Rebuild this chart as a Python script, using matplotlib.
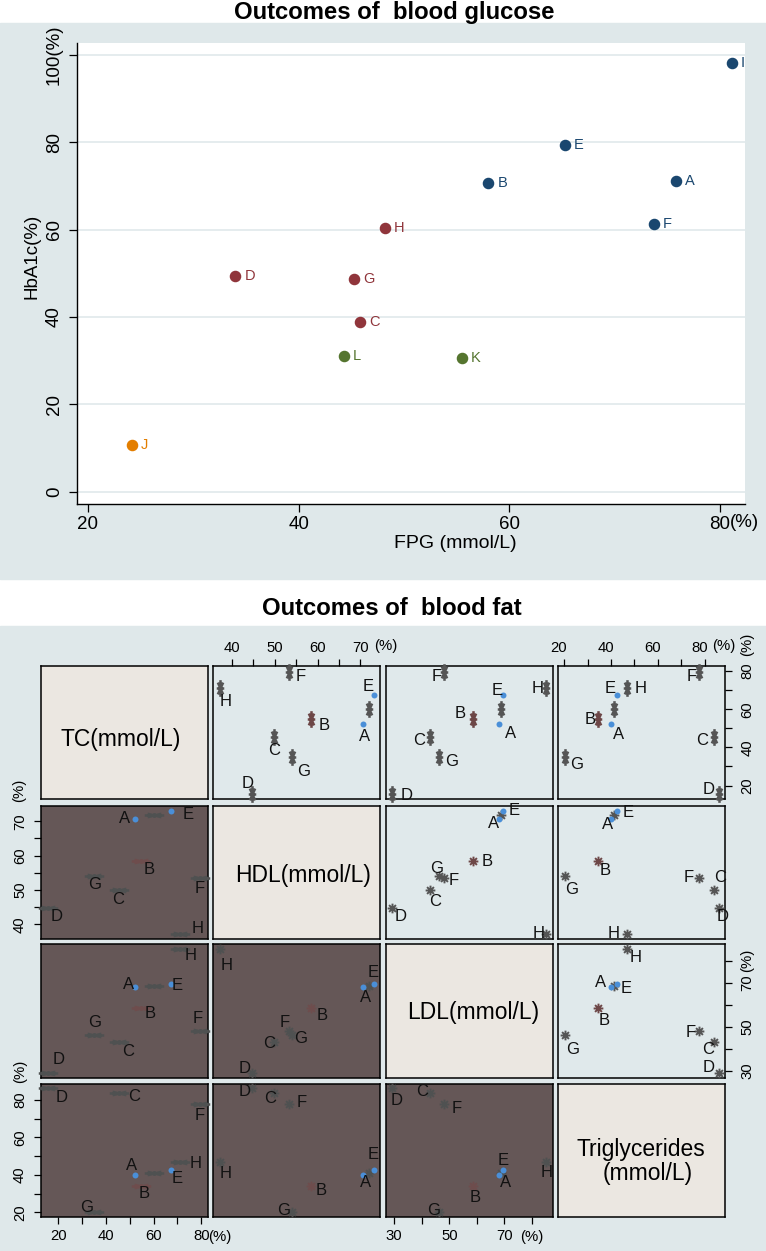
import numpy as np
import matplotlib.pyplot as plt
from matplotlib.path import Path
from matplotlib.patches import Rectangle
from matplotlib.transforms import ScaledTranslation

plt.rcParams['font.family'] = ['Liberation Sans', 'DejaVu Sans']

W, H = 766, 1251

# ---------------- data: blood glucose ----------------
glu_groups = ['A', 'B', 'C', 'D', 'E', 'F', 'G', 'H', 'I', 'J', 'K', 'L']
fpg = [75.8, 58.0, 45.8, 34.0, 65.3, 73.7, 45.3, 48.2, 81.1, 24.2, 55.5, 44.3]
hba1c = [71.2, 70.6, 38.9, 49.5, 79.4, 61.2, 48.7, 60.4, 98.2, 10.8, 30.7, 31.1]
glu_class = ['navy', 'navy', 'maroon', 'maroon', 'navy', 'navy', 'maroon',
             'maroon', 'navy', 'orange', 'green', 'green']

# ---------------- data: blood fat ----------------
fat_groups = ['A', 'B', 'C', 'D', 'E', 'F', 'G', 'H', '']
tc = [52.2, 54.9, 45.5, 15.8, 67.5, 79.4, 35.1, 71.0, 60.0]
hdl = [70.7, 58.5, 49.9, 44.8, 73.1, 53.45, 54.0, 37.2, 71.9]
ldl = [68.2, 58.7, 43.0, 29.3, 69.3, 48.2, 46.4, 85.2, 68.8]
tg = [40.0, 34.3, 83.7, 86.2, 42.6, 77.6, 20.4, 46.6, 41.2]
fat_vars = ['TC(mmol/L)', 'HDL(mmol/L)', 'LDL(mmol/L)', 'Triglycerides']

# colours
BG = '#dfe8ea'
GRID = '#e3eaed'
class_colors = {'navy': '#1a476f', 'maroon': '#90353b',
                'green': '#55752f', 'orange': '#e37e00'}
UPPER_BG, DIAG_BG, LOWER_BG = '#e0e9eb', '#ebe7e1', '#655757'
BLUE = '#4a8fd8'

# label offsets in pixels (dx right, dy down) for each matrix panel
label_off = {
    (0, 1): {'F': (11, 3), 'H': (6, 12), 'E': (-6, -9), 'A': (1, 11), 'B': (13, 6),
             'C': (0, 13), 'G': (12, 14), 'D': (-5, -11)},
    (0, 2): {'F': (-8, 3), 'H': (-9, -1), 'E': (-5, -5), 'A': (11, 8), 'B': (-13, -6),
             'C': (-11, 3), 'G': (12, 4), 'D': (14, 1)},
    (0, 3): {'F': (-8, 3), 'H': (14, -1), 'E': (-7, -7), 'A': (7, 9), 'B': (-8, 0),
             'C': (-11, 3), 'G': (12, 7), 'D': (-11, -5)},
    (1, 0): {'A': (-10, -1), 'E': (17, 3), 'B': (8, 8), 'G': (0, 7), 'C': (-1, 8),
             'F': (0, 9), 'D': (8, 8), 'H': (18, -6)},
    (1, 2): {'E': (12, -1), 'A': (-6, 4), 'B': (14, 0), 'G': (-3, -9), 'F': (9, 1),
             'C': (5, 10), 'D': (8, 8), 'H': (-8, -1)},
    (1, 3): {'E': (11, 1), 'A': (-4, 5), 'B': (7, 9), 'G': (7, 12), 'F': (-11, -2),
             'C': (7, -14), 'D': (3, 8), 'H': (-13, -1)},
    (2, 0): {'H': (11, 5), 'A': (-6, -3), 'E': (6, 0), 'B': (9, 5), 'G': (0, -13),
             'F': (-2, -13), 'C': (9, 8), 'D': (10, -14)},
    (2, 1): {'H': (7, 15), 'E': (-1, -13), 'A': (2, 10), 'B': (11, 7), 'F': (-5, -9),
             'G': (9, 3), 'C': (-5, 0), 'D': (-8, -5)},
    (2, 3): {'H': (9, 7), 'A': (-11, -5), 'E': (9, 3), 'B': (6, 12), 'G': (8, 14),
             'F': (-9, 1), 'C': (-5, 6), 'D': (-11, -6)},
    (3, 0): {'D': (13, 8), 'C': (15, 3), 'F': (0, 10), 'H': (16, 0), 'A': (-3, -10),
             'E': (6, 8), 'B': (3, 7), 'G': (-8, -5)},
    (3, 1): {'D': (-8, 2), 'C': (-4, 5), 'F': (12, -3), 'H': (6, 10), 'E': (-1, -16),
             'A': (2, 7), 'B': (10, 4), 'G': (-8, -2)},
    (3, 2): {'D': (4, 11), 'C': (-8, -2), 'F': (12, 3), 'E': (1, -10), 'A': (6, 7),
             'H': (0, 9), 'B': (2, 11), 'G': (-6, -2)},
}


def px_axes(x0, y0, x1, y1):
    return fig.add_axes([x0 / W, 1 - y1 / H, (x1 - x0) / W, (y1 - y0) / H])


def fig_text(x, y, s, **kw):
    return fig.text(x / W, 1 - y / H, s, **kw)


def star_path(sx, sy, n_lines=4):
    verts, codes = [], []
    for k in range(n_lines):
        a = np.pi * k / n_lines
        verts += [(-sx * np.cos(a), -sy * np.sin(a)), (sx * np.cos(a), sy * np.sin(a))]
        codes += [Path.MOVETO, Path.LINETO]
    return Path(verts, codes)


fig = plt.figure(figsize=(W / 100, H / 100), dpi=100)
fig.patches.append(Rectangle((0, 1 - 579 / H), 1, (579 - 22.7) / H,
                             transform=fig.transFigure, color=BG, zorder=-5))
fig.patches.append(Rectangle((0, 0), 1, (H - 626) / H,
                             transform=fig.transFigure, color=BG, zorder=-5))

# ================= blood glucose =================
fig_text(394, 19, 'Outcomes of  blood glucose', fontsize=17.2, fontweight='bold',
         ha='center', va='baseline')

ax = px_axes(76.7, 42.7, 745, 504)
ax.set_facecolor('white')
ax.set_xlim(18.93, 82.37)
ax.set_ylim(-2.8, 102.8)
for s in ['top', 'right']:
    ax.spines[s].set_visible(False)
for s in ['left', 'bottom']:
    ax.spines[s].set_linewidth(1.0)
ax.set_xticks([20, 40, 60, 80], ['20', '40', '60', '80'])
ax.set_yticks([0, 20, 40, 60, 80, 100], ['0', '20', '40', '60', '80', '100(%)'])
ax.tick_params(length=6, width=0.9, labelsize=13.5, pad=3)
ax.tick_params(axis='y', labelrotation=90, pad=4)
for lab in ax.get_yticklabels():
    lab.set_va('center')
ax.grid(axis='y', color=GRID, lw=1.3)
ax.set_axisbelow(True)

for name, x, y, cl in zip(glu_groups, fpg, hba1c, glu_class):
    c = class_colors[cl]
    ax.plot(x, y, 'o', ms=7.3, color=c, clip_on=False)
    ax.annotate(name, (x, y), xytext=(6.5, 0), textcoords='offset points',
                ha='left', va='center', color=c, fontsize=10.5)

fig_text(32, 256, 'HbA1c(%)', rotation=90, ha='center', va='center', fontsize=13.5)
fig_text(455, 544, 'FPG (mmol/L)', ha='center', va='center', fontsize=14)
fig_text(744, 522.7, '(%)', ha='center', va='center', fontsize=13.5)

# ================= blood fat matrix =================
fig_text(392, 615, 'Outcomes of  blood fat', fontsize=17.2, fontweight='bold',
         ha='center', va='baseline')

col_x = [41, 213.3, 386, 558.3]
row_y = [666, 805.7, 944.3, 1083.7]
pw, ph = 166.7, 133.3
lims = [(12.8, 82.7), (35.7, 74.55), (27.05, 87.5), (17.5, 88.6)]
values = [tc, hdl, ldl, tg]

m_norm = star_path(1, 1)
m_vert = star_path(0.45, 1, 4)
m_horiz = star_path(1, 0.25, 4)

axes = [[None] * 4 for _ in range(4)]
for r in range(4):
    for c in range(4):
        a = px_axes(col_x[c], row_y[r], col_x[c] + pw, row_y[r] + ph)
        axes[r][c] = a
        a.set_xlim(*lims[c])
        a.set_ylim(*lims[r])
        a.set_xticks([])
        a.set_yticks([])
        for s in a.spines.values():
            s.set_linewidth(1.1)
        if r == c:
            a.set_facecolor(DIAG_BG)
            continue
        lower = r > c
        a.set_facecolor(LOWER_BG if lower else UPPER_BG)
        if r == 0:
            mk, ms, mw = m_vert, 12, 1.8
        elif c == 0:
            mk, ms, mw = m_horiz, 14, 1.8
        else:
            mk, ms, mw = m_norm, 7, 1.4
        grey = '#4f5151' if lower else '#555555'
        bcol = '#6e4d4d' if lower else '#6d4747'
        xs, ys = values[c], values[r]
        for name, x, y in zip(fat_groups, xs, ys):
            if name in ('A', 'E'):
                a.plot(x, y, 'o', ms=4.3, color=BLUE, mec='none', clip_on=False, zorder=4)
            else:
                col = bcol if name == 'B' else grey
                a.plot(x, y, marker=mk, ms=ms, mew=mw, color=col, ls='none',
                       clip_on=False, zorder=3)
            if name:
                dx, dy = label_off[(r, c)][name]
                a.annotate(name, (x, y), xytext=(dx * 0.72, -dy * 0.72 - 0.7),
                           textcoords='offset points', ha='center', va='center',
                           fontsize=12, color='#111111', annotation_clip=False, zorder=5)

# diagonal labels
axes[0][0].text(0.479, 0.445, fat_vars[0], transform=axes[0][0].transAxes,
                ha='center', va='center', fontsize=16.5)
axes[1][1].text(0.538, 0.473, fat_vars[1], transform=axes[1][1].transAxes,
                ha='center', va='center', fontsize=16.5)
axes[2][2].text(0.522, 0.485, fat_vars[2], transform=axes[2][2].transAxes,
                ha='center', va='center', fontsize=16.5)
axes[3][3].text(0.496, 0.51, fat_vars[3], transform=axes[3][3].transAxes,
                ha='center', va='center', fontsize=16.5)
axes[3][3].text(0.534, 0.33, '(mmol/L)', transform=axes[3][3].transAxes,
                ha='center', va='center', fontsize=16.5)

tick_kw = dict(direction='out', length=5, width=0.9, labelsize=10.7, color='black')

# top of HDL column
a = axes[0][1]
a.xaxis.tick_top()
a.set_xticks([40, 45, 50, 55, 60, 65, 70], ['40', '', '50', '', '60', '', '70'])
a.tick_params(axis='x', pad=3, **tick_kw)

# top of TG column, right of TC row
a = axes[0][3]
a.xaxis.tick_top()
a.set_xticks([20, 30, 40, 50, 60, 70, 80], ['20', '', '40', '', '60', '', '80'])
a.tick_params(axis='x', pad=3, **tick_kw)
for lab in a.get_xticklabels():
    lab.set_transform(lab.get_transform() + ScaledTranslation(-5.5 / 100, 0, fig.dpi_scale_trans))
a.yaxis.tick_right()
a.set_yticks([20, 30, 40, 50, 60, 70, 80], ['20', '', '40', '', '60', '', '80'])
a.tick_params(axis='y', pad=6, labelrotation=90, **tick_kw)
for lab in a.get_yticklabels():
    lab.set_va('center')

# left of HDL row
a = axes[1][0]
a.set_yticks([40, 45, 50, 55, 60, 65, 70], ['40', '', '50', '', '60', '', '70'])
a.tick_params(axis='y', pad=5, labelrotation=90, **tick_kw)
for lab in a.get_yticklabels():
    lab.set_va('center')

# right of LDL row
a = axes[2][3]
a.yaxis.tick_right()
a.set_yticks([30, 40, 50, 60, 70, 80], ['30', '', '50', '', '70', '(%)'])
a.tick_params(axis='y', pad=6, labelrotation=90, **tick_kw)
for lab in a.get_yticklabels():
    lab.set_va('center')

# left of TG row, bottom of TC column
a = axes[3][0]
a.set_yticks([20, 30, 40, 50, 60, 70, 80], ['20', '', '40', '', '60', '', '80'])
a.tick_params(axis='y', pad=5, labelrotation=90, **tick_kw)
for lab in a.get_yticklabels():
    lab.set_va('center')
a.set_xticks([20, 30, 40, 50, 60, 70, 80], ['20', '', '40', '', '60', '', '80'])
a.tick_params(axis='x', pad=4, **tick_kw)

# bottom of LDL column
a = axes[3][2]
a.set_xticks([30, 40, 50, 60, 70, 80], ['30', '', '50', '', '70', '(%)'])
a.tick_params(axis='x', pad=4, **tick_kw)

# the remaining "(%)" unit marks
fig_text(386, 645.5, '(%)', ha='center', va='center', fontsize=10.7)
fig_text(723.3, 646, '(%)', ha='center', va='center', fontsize=10.7)
fig_text(746.7, 644, '(%)', ha='center', va='center', fontsize=10.7, rotation=90)
fig_text(19, 790, '(%)', ha='center', va='center', fontsize=10.7, rotation=90)
fig_text(20, 1071, '(%)', ha='center', va='center', fontsize=10.7, rotation=90)
fig_text(220, 1237, '(%)', ha='center', va='center', fontsize=10.7)

fig.savefig('out.png', dpi=100)
